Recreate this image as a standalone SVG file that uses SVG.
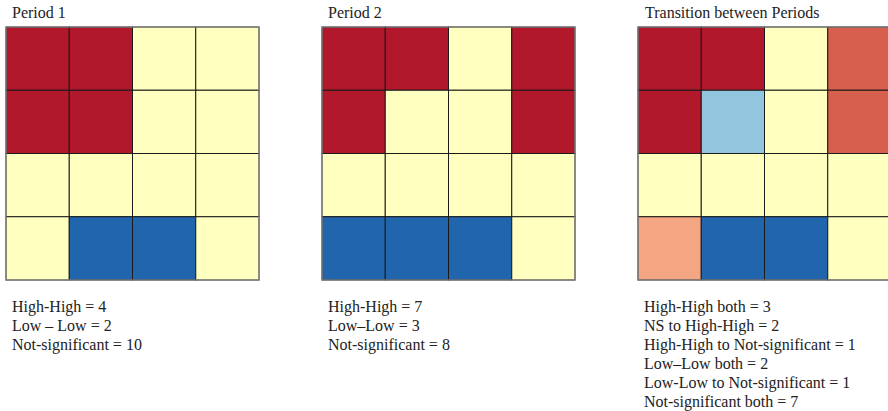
<svg xmlns="http://www.w3.org/2000/svg" width="888" height="411" viewBox="0 0 888 411">
<style>
text{font-family:"Liberation Serif","Times New Roman",serif;font-size:16px;fill:#222}
.g rect{stroke:#1a1a1a;stroke-width:1}
.r{fill:#B2182B}.y{fill:#FFFFBF}.b{fill:#2166AC}.lb{fill:#92C5DE}.s{fill:#D6604D}.ls{fill:#F4A582}
.g rect.o{fill:none;stroke:#888;stroke-width:1.2}
</style>
<rect width="888" height="411" fill="#fff"/>
<g id="period1">
<text x="12" y="18">Period 1</text>
<g class="g" transform="translate(6,27)">
<rect class="r" x="0" y="0" width="63.25" height="63.25"/><rect class="r" x="63.25" y="0" width="63.25" height="63.25"/><rect class="y" x="126.5" y="0" width="63.25" height="63.25"/><rect class="y" x="189.75" y="0" width="63.25" height="63.25"/>
<rect class="r" x="0" y="63.25" width="63.25" height="63.25"/><rect class="r" x="63.25" y="63.25" width="63.25" height="63.25"/><rect class="y" x="126.5" y="63.25" width="63.25" height="63.25"/><rect class="y" x="189.75" y="63.25" width="63.25" height="63.25"/>
<rect class="y" x="0" y="126.5" width="63.25" height="63.25"/><rect class="y" x="63.25" y="126.5" width="63.25" height="63.25"/><rect class="y" x="126.5" y="126.5" width="63.25" height="63.25"/><rect class="y" x="189.75" y="126.5" width="63.25" height="63.25"/>
<rect class="y" x="0" y="189.75" width="63.25" height="63.25"/><rect class="b" x="63.25" y="189.75" width="63.25" height="63.25"/><rect class="b" x="126.5" y="189.75" width="63.25" height="63.25"/><rect class="y" x="189.75" y="189.75" width="63.25" height="63.25"/>
<rect class="o" x="0" y="0" width="253" height="253"/>
</g>
<text x="12" y="311.5">High-High = 4</text>
<text x="12" y="330.5">Low – Low = 2</text>
<text x="12" y="349.5">Not-significant = 10</text>
</g>
<g id="period2">
<text x="328" y="18">Period 2</text>
<g class="g" transform="translate(322,27)">
<rect class="r" x="0" y="0" width="63.25" height="63.25"/><rect class="r" x="63.25" y="0" width="63.25" height="63.25"/><rect class="y" x="126.5" y="0" width="63.25" height="63.25"/><rect class="r" x="189.75" y="0" width="63.25" height="63.25"/>
<rect class="r" x="0" y="63.25" width="63.25" height="63.25"/><rect class="y" x="63.25" y="63.25" width="63.25" height="63.25"/><rect class="y" x="126.5" y="63.25" width="63.25" height="63.25"/><rect class="r" x="189.75" y="63.25" width="63.25" height="63.25"/>
<rect class="y" x="0" y="126.5" width="63.25" height="63.25"/><rect class="y" x="63.25" y="126.5" width="63.25" height="63.25"/><rect class="y" x="126.5" y="126.5" width="63.25" height="63.25"/><rect class="y" x="189.75" y="126.5" width="63.25" height="63.25"/>
<rect class="b" x="0" y="189.75" width="63.25" height="63.25"/><rect class="b" x="63.25" y="189.75" width="63.25" height="63.25"/><rect class="b" x="126.5" y="189.75" width="63.25" height="63.25"/><rect class="y" x="189.75" y="189.75" width="63.25" height="63.25"/>
<rect class="o" x="0" y="0" width="253" height="253"/>
</g>
<text x="328" y="311.5">High-High = 7</text>
<text x="328" y="330.5">Low–Low = 3</text>
<text x="328" y="349.5">Not-significant = 8</text>
</g>
<g id="transition">
<text x="645" y="18">Transition between Periods</text>
<g class="g" transform="translate(638,27)">
<rect class="r" x="0" y="0" width="63.25" height="63.25"/><rect class="r" x="63.25" y="0" width="63.25" height="63.25"/><rect class="y" x="126.5" y="0" width="63.25" height="63.25"/><rect class="s" x="189.75" y="0" width="63.25" height="63.25"/>
<rect class="r" x="0" y="63.25" width="63.25" height="63.25"/><rect class="lb" x="63.25" y="63.25" width="63.25" height="63.25"/><rect class="y" x="126.5" y="63.25" width="63.25" height="63.25"/><rect class="s" x="189.75" y="63.25" width="63.25" height="63.25"/>
<rect class="y" x="0" y="126.5" width="63.25" height="63.25"/><rect class="y" x="63.25" y="126.5" width="63.25" height="63.25"/><rect class="y" x="126.5" y="126.5" width="63.25" height="63.25"/><rect class="y" x="189.75" y="126.5" width="63.25" height="63.25"/>
<rect class="ls" x="0" y="189.75" width="63.25" height="63.25"/><rect class="b" x="63.25" y="189.75" width="63.25" height="63.25"/><rect class="b" x="126.5" y="189.75" width="63.25" height="63.25"/><rect class="y" x="189.75" y="189.75" width="63.25" height="63.25"/>
<rect class="o" x="0" y="0" width="253" height="253"/>
</g>
<text x="644" y="311.5">High-High both = 3</text>
<text x="644" y="330.5">NS to High-High = 2</text>
<text x="644" y="349.5">High-High to Not-significant = 1</text>
<text x="644" y="368.5">Low–Low both = 2</text>
<text x="644" y="387.5">Low-Low to Not-significant = 1</text>
<text x="644" y="406.5">Not-significant both = 7</text>
</g>
<g id="connectors"/>
</svg>
